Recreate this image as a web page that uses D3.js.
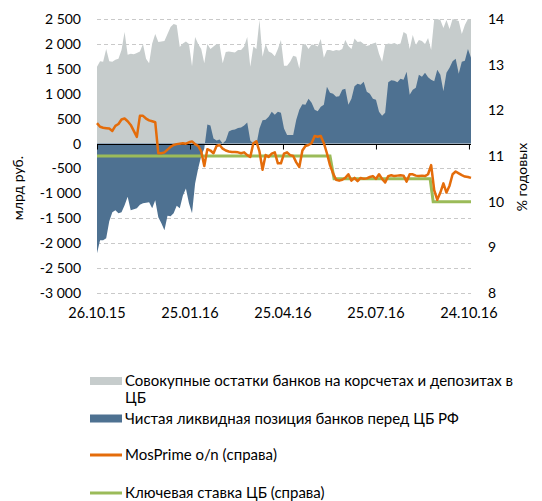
<!DOCTYPE html>
<html>
<head>
<meta charset="utf-8">
<script src="https://cdn.jsdelivr.net/npm/d3@7"></script>
<style>
  body { margin: 0; background: #fff; }
  text { font-family: Lato, "Open Sans", sans-serif; fill: #000; }
</style>
</head>
<body>
<div id="chart"></div>
<script>
// Liquidity of the banking sector, 26.10.15 - 26.10.16, one reading every 3 days
const startDate = new Date(2015, 9, 26);
const stepDays = 3;

// Совокупные остатки банков на корсчетах и депозитах в ЦБ, млрд руб.
const totalBalances = [
  1540, 1650, 1640, 1900, 1650, 1640, 1680, 1700, 1880, 2240,
  1780, 1800, 1790, 1820, 1850, 2000, 1700, 1610, 2010, 2200,
  2040, 2050, 2060, 2200, 2340, 2400, 2380, 1940, 2010, 2050,
  2000, 1550, 2140, 2000, 1900, 1610, 2000, 1900, 1950, 2000,
  1980, 1610, 1840, 1850, 1840, 1830, 1880, 1880, 1950, 2140,
  1540, 1950, 1900, 2480, 1740, 2000, 1850, 1820, 1750, 1900,
  2080, 1560, 1560, 1640, 1760, 1740, 1500, 1980, 2000, 1900,
  1990, 1980, 1950, 2100, 1720, 1880, 1880, 1860, 1880, 1870,
  1900, 2080, 1960, 1900, 2110, 2040, 2050, 2000, 1960, 1980,
  2010, 2030, 1800, 1640, 1980, 2010, 2000, 2020, 1990, 2010,
  2240, 2200, 1900, 2180, 1980, 2080, 2060, 2000, 2120, 1880,
  2500, 2500, 2480, 2320, 2480, 2300, 2500, 2480, 2460, 2200,
  2380, 2500, 2480
];

// Чистая ликвидная позиция банков перед ЦБ РФ, млрд руб.
const netPosition = [
  -2200, -1940, -1940, -1900, -1560, -1380, -1340, -1400, -1380, -1240,
  -1070, -1340, -1320, -1300, -1230, -1200, -1190, -1180, -1300, -1140,
  -1480, -1600, -1740, -1450, -1460, -1400, -1250, -1300, -1050, -900,
  -1200, -1400, -800, -500, -250, -100, 380, 360, 100, 60,
  80, 0, 60, 240, 270, 280, 310, 320, 360, 420,
  60, 0, -20, 300, 470, 480, 540, 640, 580, 640,
  620, 300, 170, 170, 170, 480, 680, 790, 780, 900,
  820, 680, 650, 740, 780, 1140, 1020, 1000, 940, 950,
  1080, 1100, 780, 900, 1150, 1200, 1180, 1240, 1040, 1000,
  900, 880, 640, 560, 620, 1230, 1270, 1260, 1230, 1300,
  1280, 1440, 980, 1080, 1120, 1380, 1340, 1420, 1330, 1280,
  1250, 1480, 1380, 1050, 1420, 1520, 1650, 1700, 1400, 1640,
  1660, 1900, 1720
];

// MosPrime o/n, % годовых
const mosPrime = [
  11.72, 11.64, 11.62, 11.61, 11.60, 11.55, 11.66, 11.70, 11.80, 11.82,
  11.76, 11.68, 11.55, 11.42, 11.88, 11.88, 11.82, 11.78, 11.76, 11.74,
  11.06, 11.06, 11.08, 11.14, 11.20, 11.24, 11.26, 11.27, 11.28, 11.27,
  11.30, 11.32, 11.26, 11.22, 11.10, 10.78, 11.15, 11.12, 11.06, 11.22,
  11.24, 11.16, 11.12, 11.10, 11.09, 11.09, 11.08, 11.06, 11.08, 11.02,
  10.98, 11.28, 11.32, 11.10, 10.70, 11.02, 10.98, 11.05, 11.08, 10.84,
  10.84, 11.05, 11.08, 11.02, 11.00, 10.86, 10.76, 11.12, 11.22, 11.24,
  11.28, 11.44, 11.42, 11.44, 11.28, 11.06, 10.80, 10.62, 10.48, 10.46,
  10.48, 10.52, 10.60, 10.46, 10.52, 10.45, 10.52, 10.50, 10.51, 10.54,
  10.56, 10.50, 10.60, 10.50, 10.42, 10.56, 10.58, 10.56, 10.57, 10.58,
  10.57, 10.44, 10.60, 10.60, 10.57, 10.56, 10.57, 10.56, 10.60, 10.80,
  10.25, 10.04, 10.20, 10.40, 10.20, 10.35, 10.60, 10.66, 10.62, 10.58,
  10.55, 10.54, 10.52
];

// Ключевая ставка ЦБ, % годовых
const keyRateDates = ['26.10.15', '10.06.16', '14.06.16', '16.09.16', '19.09.16', '26.10.16'];
const keyRateValues = [11, 11, 10.5, 10.5, 10, 10];

const xTickLabels = ['26.10.15', '25.01.16', '25.04.16', '25.07.16', '24.10.16'];
const leftTicks = [2500, 2000, 1500, 1000, 500, 0, -500, -1000, -1500, -2000, -2500, -3000];
const rightTicks = [14, 13, 12, 11, 10, 9, 8];

const legendItems = [
  { type: 'rect', color: '#c6cccc', lines: ['Совокупные остатки банков на корсчетах и депозитах в', 'ЦБ'] },
  { type: 'rect', color: '#4e7191', lines: ['Чистая ликвидная позиция банков перед ЦБ РФ'] },
  { type: 'line', color: '#e46c0a', lines: ['MosPrime o/n (справа)'] },
  { type: 'line', color: '#9bbb59', lines: ['Ключевая ставка ЦБ (справа)'] }
];

const parseDate = d3.timeParse('%d.%m.%y');
const formatDate = d3.timeFormat('%d.%m.%y');
// thousands split by a space, plain hyphen for the minus sign
const fmtLeft = d => d3.format(',')(d).replace(/,/g, ' ').replace('\u2212', '-');

const width = 542, height = 501;
const plot = { left: 97, right: 471, top: 19, bottom: 293 };

const svg = d3.select('#chart').append('svg')
  .attr('width', width)
  .attr('height', height);

const dates = totalBalances.map((_, i) => d3.timeDay.offset(startDate, i * stepDays));
const series = dates.map((d, i) => ({
  date: d, total: totalBalances[i], net: netPosition[i], mos: mosPrime[i]
}));
const keyRate = keyRateDates.map((d, i) => ({ date: parseDate(d), value: keyRateValues[i] }));

// Scales
const x = d3.scaleTime()
  .domain([startDate, dates[dates.length - 1]])
  .range([plot.left, plot.right]);

const yLeft = d3.scaleLinear()
  .domain([-3000, 2500])
  .range([plot.bottom, plot.top]);

const yRight = d3.scaleLinear()
  .domain([8, 14])
  .range([plot.bottom, plot.top]);

// Grid lines
svg.append('g')
  .selectAll('line')
  .data(leftTicks.filter(d => d !== 0))
  .enter()
  .append('line')
  .attr('x1', plot.left)
  .attr('x2', plot.right)
  .attr('y1', d => Math.round(yLeft(d)) + 0.5)
  .attr('y2', d => Math.round(yLeft(d)) + 0.5)
  .attr('stroke', '#c9c9c9')
  .attr('stroke-dasharray', '4,3');

// Areas
const areaTotal = d3.area()
  .x(d => x(d.date))
  .y0(yLeft(0))
  .y1(d => yLeft(d.total));

const areaNet = d3.area()
  .x(d => x(d.date))
  .y0(yLeft(0))
  .y1(d => yLeft(d.net));

svg.append('path')
  .datum(series)
  .attr('d', areaTotal)
  .attr('fill', '#c6cccc');

svg.append('path')
  .datum(series)
  .attr('d', areaNet)
  .attr('fill', '#4e7191');

// Zero axis with tick marks, labels at the bottom
const xAxis = svg.append('g')
  .attr('transform', `translate(0,${Math.round(yLeft(0)) + 0.5})`)
  .call(d3.axisBottom(x)
    .tickValues(xTickLabels.map(parseDate))
    .tickSize(5)
    .tickFormat(''));
xAxis.select('.domain')
  .attr('d', `M${plot.left},0H${plot.right}`)
  .attr('stroke', '#000');
xAxis.selectAll('.tick line').attr('stroke', '#000');

svg.append('g')
  .selectAll('text')
  .data(xTickLabels.map(parseDate))
  .enter()
  .append('text')
  .attr('x', d => x(d))
  .attr('y', 318)
  .attr('text-anchor', 'middle')
  .style('font-size', '14.5px')
  .text(d => formatDate(d));

// Lines on the right axis
const lineMos = d3.line()
  .x(d => x(d.date))
  .y(d => yRight(d.mos));

const lineKey = d3.line()
  .x(d => x(d.date))
  .y(d => yRight(d.value));

svg.append('path')
  .datum(keyRate)
  .attr('d', lineKey)
  .attr('fill', 'none')
  .attr('stroke', '#9bbb59')
  .attr('stroke-width', 3);

svg.append('path')
  .datum(series)
  .attr('d', lineMos)
  .attr('fill', 'none')
  .attr('stroke', '#e46c0a')
  .attr('stroke-width', 2.5)
  .attr('stroke-linejoin', 'round');

// Left axis labels
const leftAxis = svg.append('g')
  .attr('transform', `translate(${plot.left},0)`)
  .call(d3.axisLeft(yLeft)
    .tickValues(leftTicks)
    .tickSize(0)
    .tickPadding(16)
    .tickFormat(fmtLeft));
leftAxis.select('.domain').remove();
leftAxis.selectAll('text')
  .style('font-family', 'Lato, sans-serif')
  .style('font-size', '14px')
  .attr('fill', '#000');

// Right axis labels
const rightAxis = svg.append('g')
  .attr('transform', `translate(${plot.right},0)`)
  .call(d3.axisRight(yRight)
    .tickValues(rightTicks)
    .tickSize(0)
    .tickPadding(17)
    .tickFormat(d3.format('d')));
rightAxis.select('.domain').remove();
rightAxis.selectAll('text')
  .style('font-family', 'Lato, sans-serif')
  .style('font-size', '14px')
  .attr('fill', '#000');

// Axis titles
svg.append('text')
  .attr('transform', 'translate(23,188) rotate(-90)')
  .attr('text-anchor', 'middle')
  .style('font-size', '14px')
  .text('млрд руб.');

svg.append('text')
  .attr('transform', 'translate(527,177) rotate(-90)')
  .attr('text-anchor', 'middle')
  .style('font-size', '14px')
  .text('% годовых');

// Legend
const legendRows = [381, 418.5, 455, 493];
const legend = svg.append('g');
legendItems.forEach((item, i) => {
  const cy = legendRows[i];
  if (item.type === 'rect') {
    legend.append('rect')
      .attr('x', 90).attr('y', cy - 4)
      .attr('width', 32).attr('height', 8)
      .attr('fill', item.color);
  } else {
    legend.append('line')
      .attr('x1', 90).attr('x2', 122)
      .attr('y1', cy).attr('y2', cy)
      .attr('stroke', item.color)
      .attr('stroke-width', 3);
  }
  const t = legend.append('text')
    .attr('x', 125)
    .attr('y', cy + 5)
    .style('font-size', '15px');
  item.lines.forEach((line, j) => {
    t.append('tspan')
      .attr('x', 125)
      .attr('dy', j === 0 ? 0 : 17)
      .text(line);
  });
});
</script>
</body>
</html>
